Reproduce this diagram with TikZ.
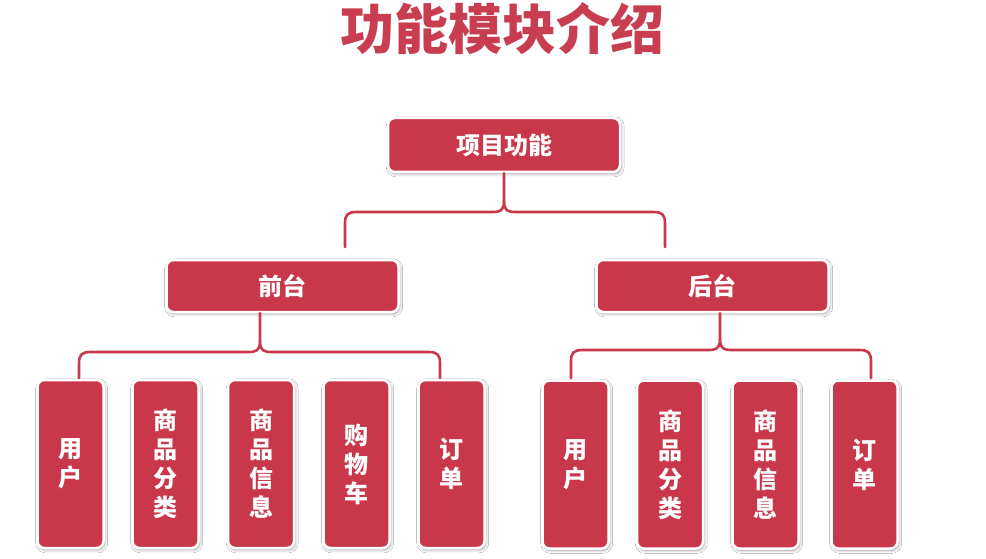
\documentclass[tikz,border=0pt]{standalone}
\usepackage{fontspec}
\newfontfamily\cjk{Noto Sans CJK SC}
\usetikzlibrary{shadows.blur,calc}
\definecolor{boxred}{RGB}{200,56,74}
\definecolor{titlered}{RGB}{200,62,80}
\begin{document}
\begin{tikzpicture}[x=1pt,y=-1pt,
  box/.style={fill=boxred,draw=white,line width=2.5pt,rounded corners=7pt,
    inner sep=0pt,text=white,font=\cjk\bfseries\fontsize{24}{29}\selectfont,
    align=center,
    blur shadow={shadow xshift=1.2pt,shadow yshift=-1.8pt,shadow opacity=40,shadow blur radius=3pt}},
  wide/.style={box,minimum width=232pt,minimum height=54pt},
  leaf/.style={box,minimum width=66pt,minimum height=168pt},
  conn/.style={draw=boxred,line width=2.6pt,line cap=round,line join=round}]
\useasboundingbox (0,0) rectangle (986,559);
\fill[white] (0,0) rectangle (986,559);

\node[text=titlered,font=\cjk\bfseries\fontsize{54}{60}\selectfont] (title) at (502,29) {功能模块介绍};

\node[wide] (top) at (504,145) {项目功能};
\node[wide,minimum height=52pt] (front) at (282.5,286) {前台};
\node[wide,minimum height=52pt] (back) at (712.5,286) {后台};

\node[leaf] (f1) at (70.5,464) {用\\户};
\node[leaf] (f2) at (165.5,464) {商\\品\\分\\类};
\node[leaf] (f3) at (261,464) {商\\品\\信\\息};
\node[leaf] (f4) at (356.5,464) {购\\物\\车};
\node[leaf] (f5) at (451.5,464) {订\\单};

\node[leaf] (b1) at (575.5,464.5) {用\\户};
\node[leaf] (b2) at (670,464.5) {商\\品\\分\\类};
\node[leaf] (b3) at (765.5,464.5) {商\\品\\信\\息};
\node[leaf] (b4) at (864.5,464.5) {订\\单};

% top brace
\coordinate (tj) at (504,201);
\coordinate (tl) at (345,247);
\coordinate (tr) at (665,247);
\draw[conn] (top.south) -- (tj) .. controls (504,211) and (500,212) .. (492,212) -- (357,212) .. controls (347,212) and (345,215) .. (345,224) -- (tl);
\draw[conn] (tj) .. controls (504,211) and (508,212) .. (516,212) -- (653,212) .. controls (663,212) and (665,215) .. (665,224) -- (tr);

% front brace
\coordinate (fj) at (260,341);
\coordinate (fl) at (79,378);
\coordinate (fr) at (440,378);
\draw[conn] (front.south -| fj) -- (fj) .. controls (260,351) and (256,352) .. (248,352) -- (91,352) .. controls (81,352) and (79,355) .. (79,364) -- (fl);
\draw[conn] (fj) .. controls (260,351) and (264,352) .. (272,352) -- (428,352) .. controls (438,352) and (440,355) .. (440,364) -- (fr);

% back brace
\coordinate (bj) at (720,339);
\coordinate (bl) at (571,378);
\coordinate (br) at (871,378);
\draw[conn] (back.south -| bj) -- (bj) .. controls (720,349) and (716,350) .. (708,350) -- (583,350) .. controls (573,350) and (571,353) .. (571,362) -- (bl);
\draw[conn] (bj) .. controls (720,349) and (724,350) .. (732,350) -- (859,350) .. controls (869,350) and (871,353) .. (871,362) -- (br);
\end{tikzpicture}
\end{document}
